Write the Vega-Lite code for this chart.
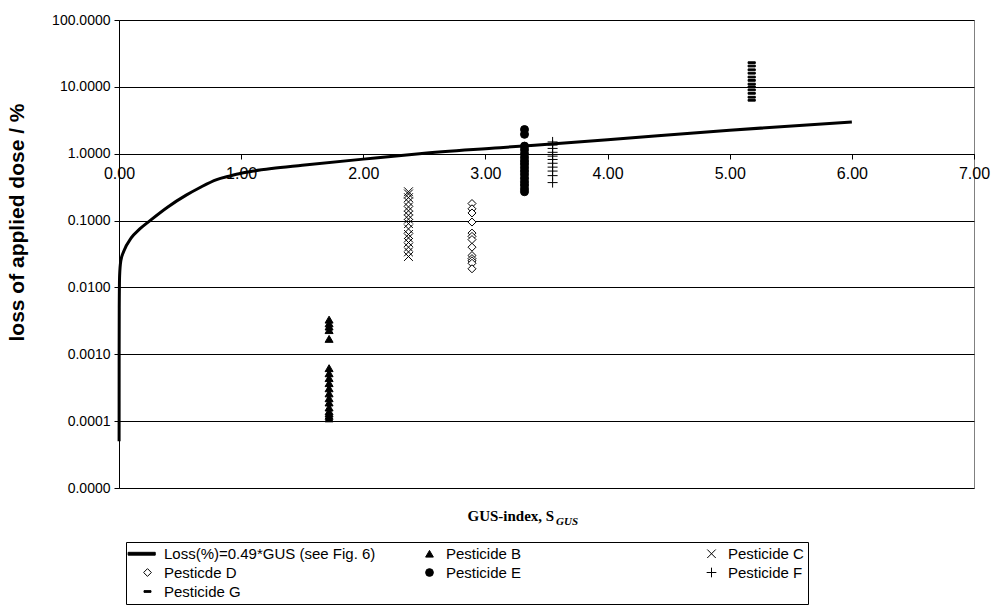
{
  "$schema": "https://vega.github.io/schema/vega-lite/v6.json",
  "width": 855,
  "height": 468,
  "autosize": {"type": "none"},
  "padding": {"left": 119, "top": 20, "right": 18, "bottom": 124},
  "background": "white",
  "config": {
    "view": {"stroke": "#808080", "strokeWidth": 1},
    "font": "Liberation Sans",
    "legend": {
      "title": null, "orient": "none", "legendX": 7, "legendY": 522, "direction": "horizontal", "columns": 3, "gridAlign": "all",
      "columnPadding": 36, "rowPadding": 3, "labelFont": "Liberation Sans", "labelFontSize": 15, "labelColor": "black",
      "labelOffset": 9, "labelLimit": 600, "symbolSize": 60, "symbolOffset": 10, "symbolStrokeColor": "black", "symbolStrokeWidth": 1,
      "strokeColor": "black", "fillColor": "white", "padding": 4
    }
  },
  "datasets": {
    "curve": [
      {"gus": 0.0008, "loss": 0.00005},
      {"gus": 0.001, "loss": 0.0002},
      {"gus": 0.0012, "loss": 0.001},
      {"gus": 0.002, "loss": 0.005},
      {"gus": 0.005, "loss": 0.015},
      {"gus": 0.015, "loss": 0.025},
      {"gus": 0.04, "loss": 0.035},
      {"gus": 0.1, "loss": 0.055},
      {"gus": 0.17, "loss": 0.075},
      {"gus": 0.254, "loss": 0.1},
      {"gus": 0.4, "loss": 0.16},
      {"gus": 0.55, "loss": 0.24},
      {"gus": 0.66, "loss": 0.31},
      {"gus": 0.8, "loss": 0.41},
      {"gus": 0.9, "loss": 0.46},
      {"gus": 1.0, "loss": 0.51},
      {"gus": 1.1, "loss": 0.55},
      {"gus": 1.25, "loss": 0.6},
      {"gus": 1.5, "loss": 0.67},
      {"gus": 2.0, "loss": 0.83},
      {"gus": 2.46, "loss": 1.0},
      {"gus": 3.12, "loss": 1.23},
      {"gus": 4.0, "loss": 1.62},
      {"gus": 5.0, "loss": 2.25},
      {"gus": 6.0, "loss": 2.98}
    ],
    "pts": [
      {"series": "Pesticide B", "gus": 1.72, "loss": 0.0033},
      {"series": "Pesticide B", "gus": 1.72, "loss": 0.0029},
      {"series": "Pesticide B", "gus": 1.72, "loss": 0.0026},
      {"series": "Pesticide B", "gus": 1.72, "loss": 0.0023},
      {"series": "Pesticide B", "gus": 1.72, "loss": 0.0017},
      {"series": "Pesticide B", "gus": 1.72, "loss": 0.00062},
      {"series": "Pesticide B", "gus": 1.72, "loss": 0.00052},
      {"series": "Pesticide B", "gus": 1.72, "loss": 0.00044},
      {"series": "Pesticide B", "gus": 1.72, "loss": 0.00037},
      {"series": "Pesticide B", "gus": 1.72, "loss": 0.00031},
      {"series": "Pesticide B", "gus": 1.72, "loss": 0.00026},
      {"series": "Pesticide B", "gus": 1.72, "loss": 0.00022},
      {"series": "Pesticide B", "gus": 1.72, "loss": 0.00019},
      {"series": "Pesticide B", "gus": 1.72, "loss": 0.00016},
      {"series": "Pesticide B", "gus": 1.72, "loss": 0.00014},
      {"series": "Pesticide B", "gus": 1.72, "loss": 0.00013},
      {"series": "Pesticide B", "gus": 1.72, "loss": 0.00012},
      {"series": "Pesticide B", "gus": 1.72, "loss": 0.00011},
      {"series": "Pesticide C", "gus": 2.37, "loss": 0.27},
      {"series": "Pesticide C", "gus": 2.37, "loss": 0.25},
      {"series": "Pesticide C", "gus": 2.37, "loss": 0.22},
      {"series": "Pesticide C", "gus": 2.37, "loss": 0.19},
      {"series": "Pesticide C", "gus": 2.37, "loss": 0.16},
      {"series": "Pesticide C", "gus": 2.37, "loss": 0.14},
      {"series": "Pesticide C", "gus": 2.37, "loss": 0.12},
      {"series": "Pesticide C", "gus": 2.37, "loss": 0.105},
      {"series": "Pesticide C", "gus": 2.37, "loss": 0.09},
      {"series": "Pesticide C", "gus": 2.37, "loss": 0.075},
      {"series": "Pesticide C", "gus": 2.37, "loss": 0.062},
      {"series": "Pesticide C", "gus": 2.37, "loss": 0.055},
      {"series": "Pesticide C", "gus": 2.37, "loss": 0.047},
      {"series": "Pesticide C", "gus": 2.37, "loss": 0.04},
      {"series": "Pesticide C", "gus": 2.37, "loss": 0.034},
      {"series": "Pesticide C", "gus": 2.37, "loss": 0.029},
      {"series": "Pesticde D", "gus": 2.89, "loss": 0.18},
      {"series": "Pesticde D", "gus": 2.89, "loss": 0.15},
      {"series": "Pesticde D", "gus": 2.89, "loss": 0.13},
      {"series": "Pesticde D", "gus": 2.89, "loss": 0.095},
      {"series": "Pesticde D", "gus": 2.89, "loss": 0.065},
      {"series": "Pesticde D", "gus": 2.89, "loss": 0.058},
      {"series": "Pesticde D", "gus": 2.89, "loss": 0.052},
      {"series": "Pesticde D", "gus": 2.89, "loss": 0.04},
      {"series": "Pesticde D", "gus": 2.89, "loss": 0.03},
      {"series": "Pesticde D", "gus": 2.89, "loss": 0.027},
      {"series": "Pesticde D", "gus": 2.89, "loss": 0.025},
      {"series": "Pesticde D", "gus": 2.89, "loss": 0.023},
      {"series": "Pesticde D", "gus": 2.89, "loss": 0.019},
      {"series": "Pesticide E", "gus": 3.32, "loss": 2.3},
      {"series": "Pesticide E", "gus": 3.32, "loss": 1.95},
      {"series": "Pesticide E", "gus": 3.32, "loss": 1.3},
      {"series": "Pesticide E", "gus": 3.32, "loss": 1.15},
      {"series": "Pesticide E", "gus": 3.32, "loss": 1.0},
      {"series": "Pesticide E", "gus": 3.32, "loss": 0.88},
      {"series": "Pesticide E", "gus": 3.32, "loss": 0.78},
      {"series": "Pesticide E", "gus": 3.32, "loss": 0.7},
      {"series": "Pesticide E", "gus": 3.32, "loss": 0.62},
      {"series": "Pesticide E", "gus": 3.32, "loss": 0.55},
      {"series": "Pesticide E", "gus": 3.32, "loss": 0.49},
      {"series": "Pesticide E", "gus": 3.32, "loss": 0.43},
      {"series": "Pesticide E", "gus": 3.32, "loss": 0.38},
      {"series": "Pesticide E", "gus": 3.32, "loss": 0.34},
      {"series": "Pesticide E", "gus": 3.32, "loss": 0.3},
      {"series": "Pesticide E", "gus": 3.32, "loss": 0.27},
      {"series": "Pesticide F", "gus": 3.55, "loss": 1.5},
      {"series": "Pesticide F", "gus": 3.55, "loss": 1.35},
      {"series": "Pesticide F", "gus": 3.55, "loss": 1.2},
      {"series": "Pesticide F", "gus": 3.55, "loss": 1.05},
      {"series": "Pesticide F", "gus": 3.55, "loss": 0.92},
      {"series": "Pesticide F", "gus": 3.55, "loss": 0.82},
      {"series": "Pesticide F", "gus": 3.55, "loss": 0.72},
      {"series": "Pesticide F", "gus": 3.55, "loss": 0.63},
      {"series": "Pesticide F", "gus": 3.55, "loss": 0.55},
      {"series": "Pesticide F", "gus": 3.55, "loss": 0.47},
      {"series": "Pesticide F", "gus": 3.55, "loss": 0.37},
      {"series": "Pesticide G", "gus": 5.18, "loss": 23},
      {"series": "Pesticide G", "gus": 5.18, "loss": 20.5},
      {"series": "Pesticide G", "gus": 5.18, "loss": 18},
      {"series": "Pesticide G", "gus": 5.18, "loss": 16},
      {"series": "Pesticide G", "gus": 5.18, "loss": 14},
      {"series": "Pesticide G", "gus": 5.18, "loss": 12.5},
      {"series": "Pesticide G", "gus": 5.18, "loss": 11},
      {"series": "Pesticide G", "gus": 5.18, "loss": 10},
      {"series": "Pesticide G", "gus": 5.18, "loss": 9},
      {"series": "Pesticide G", "gus": 5.18, "loss": 8},
      {"series": "Pesticide G", "gus": 5.18, "loss": 7},
      {"series": "Pesticide G", "gus": 5.18, "loss": 6.3}
    ]
  },
  "layer": [
    {
      "data": {"name": "curve"},
      "mark": {"type": "line", "color": "black", "strokeWidth": 3, "interpolate": "monotone"},
      "encoding": {
        "x": {
          "field": "gus", "type": "quantitative",
          "scale": {"domain": [0, 7], "nice": false, "zero": false},
          "axis": {
            "offset": -334, "values": [0, 1, 2, 3, 4, 5, 6, 7], "format": ".2f",
            "grid": false, "domainColor": "black", "domainWidth": 1, "tickColor": "black", "tickSize": 5,
            "labelFont": "Liberation Sans", "labelFontSize": 16, "labelColor": "black", "labelPadding": 6,
            "labelFlush": false, "labelOverlap": false,
            "title": "GUS-index, S", "titleFont": "Liberation Serif", "titleFontSize": 15, "titleFontWeight": "bold",
            "titleColor": "black", "titleAlign": "left", "titleX": 348, "titleY": 366, "titleBaseline": "alphabetic"
          }
        },
        "y": {
          "field": "loss", "type": "quantitative",
          "scale": {"type": "log", "domain": [0.00001, 100], "nice": false},
          "axis": {
            "values": [0.00001, 0.0001, 0.001, 0.01, 0.1, 1, 10, 100], "format": ".4f",
            "grid": true, "gridColor": "black", "gridWidth": 1, "gridOpacity": 1,
            "domainColor": "black", "tickColor": "black", "tickSize": 5,
            "labelFont": "Liberation Sans", "labelFontSize": 14, "labelColor": "black", "labelPadding": 4,
            "labelFlush": false, "labelOverlap": false,
            "title": "loss of applied dose / %", "titleFont": "Liberation Sans", "titleFontSize": 21,
            "titleFontWeight": "bold", "titleColor": "black", "titleX": -92, "titleY": 202, "titleAlign": "center",
            "titleBaseline": "bottom", "titleAngle": -90
          }
        }
      }
    },
    {
      "data": {"name": "pts"},
      "mark": {"type": "point", "strokeWidth": 1, "opacity": 1, "size": 64},
      "encoding": {
        "x": {"field": "gus", "type": "quantitative"},
        "y": {"field": "loss", "type": "quantitative"},
        "shape": {
          "field": "series", "type": "nominal",
          "scale": {
            "domain": ["Loss(%)=0.49*GUS (see Fig. 6)", "Pesticide B", "Pesticide C", "Pesticde D", "Pesticide E", "Pesticide F", "Pesticide G"],
            "range": ["M-5.0,-0.37H2.0V0.37H-5.0Z", "triangle-up", "M-1.1,-1.1L1.1,1.1M-1.1,1.1L1.1,-1.1", "diamond", "circle", "M-1.25,0H1.25M0,-1.25V1.25", "M-0.9,-0.22H0.9V0.22H-0.9Z"]
          }
        },
        "fill": {
          "field": "series", "type": "nominal",
          "scale": {
            "domain": ["Loss(%)=0.49*GUS (see Fig. 6)", "Pesticide B", "Pesticide C", "Pesticde D", "Pesticide E", "Pesticide F", "Pesticide G"],
            "range": ["black", "black", "transparent", "white", "black", "transparent", "black"]
          }
        },
        "stroke": {
          "field": "series", "type": "nominal",
          "scale": {
            "domain": ["Loss(%)=0.49*GUS (see Fig. 6)", "Pesticide B", "Pesticide C", "Pesticde D", "Pesticide E", "Pesticide F", "Pesticide G"],
            "range": ["black", "black", "black", "black", "black", "black", "black"]
          }
        }
      }
    },
    {
      "data": {"values": [{}]},
      "mark": {"type": "text", "font": "Liberation Serif", "fontSize": 11, "fontStyle": "italic", "fontWeight": "bold", "align": "left", "baseline": "alphabetic", "color": "black"},
      "encoding": {
        "x": {"datum": 3.578, "type": "quantitative"},
        "y": {"datum": 0.0000028, "type": "quantitative"},
        "text": {"value": "GUS"}
      }
    }
  ]
}
